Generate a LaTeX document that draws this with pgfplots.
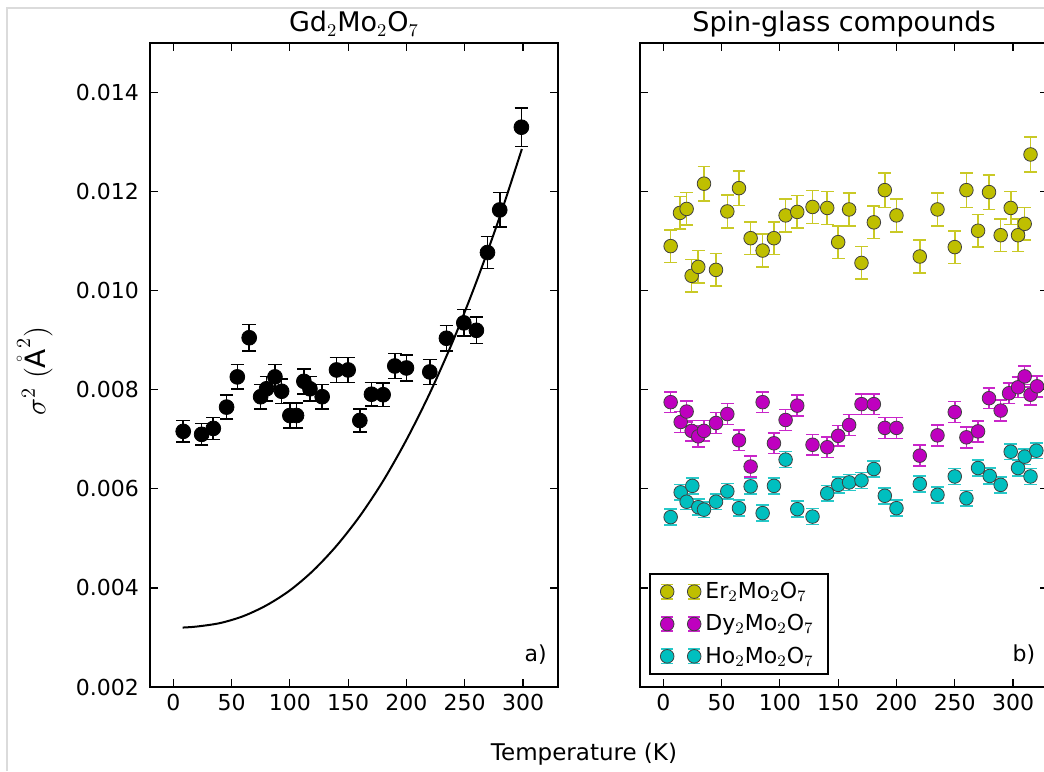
\documentclass[border=0pt]{standalone}
\usepackage{fontspec}
\setmainfont{DejaVu Sans}
\usepackage{pgfplots}
\pgfplotsset{compat=1.18}
\definecolor{ErY}{rgb}{0.75,0.75,0}
\definecolor{DyM}{rgb}{0.75,0,0.75}
\definecolor{HoC}{rgb}{0,0.75,0.75}
\definecolor{Frame}{gray}{0.86}

% legend glyph: two markers with error bars, as matplotlib draws them
\newcommand{\legimg}[1]{%
  \foreach \xx in {0pt,13.5pt}{%
    \draw[#1!85!white,line width=0.8pt] (\xx,-3.6pt)--(\xx,3.6pt)
      (\xx-3pt,3.6pt)--(\xx+3pt,3.6pt) (\xx-3pt,-3.6pt)--(\xx+3pt,-3.6pt);
    \draw[fill=#1,draw=black!75,line width=0.4pt] (\xx,0) circle (3.4pt);
  }}

\pgfplotsset{
  panel/.style={
    scale only axis, width=204pt, height=322pt,
    xmin=-20, xmax=330, ymin=0.002, ymax=0.015,
    xtick={0,50,100,150,200,250,300},
    ytick={0.002,0.004,0.006,0.008,0.010,0.012,0.014},
    scaled y ticks=false,
    axis line style={line width=1pt},
    tick style={black,line width=0.6pt},
    major tick length=4pt,
    ticklabel style={font=\fontsize{11}{13}\selectfont},
    /pgf/number format/assume math mode=true,
    yticklabel style={/pgf/number format/fixed,/pgf/number format/fixed zerofill,
      /pgf/number format/precision=3,xshift=-2pt},
    title style={font=\fontsize{13.5}{16}\selectfont,at={(0.5,1)},anchor=base,yshift=-0.5pt},
  },
  gdpts/.style={only marks,mark=*,mark size=3.7pt,black,
    error bars/.cd,y dir=both,y explicit,
    error bar style={line width=0.8pt},
    error mark options={rotate=90,line width=0.8pt,mark size=3.4pt}},
  sgpts/.style={only marks,mark=*,mark size=3.4pt,color=#1,
    mark options={fill=#1,draw=black!75,line width=0.4pt},
    legend image code/.code={\legimg{#1}},
    error bars/.cd,y dir=both,y explicit,
    error bar style={line width=0.8pt,color=#1!85!white},
    error mark options={rotate=90,line width=0.8pt,mark size=3.2pt,color=#1!85!white}},
}

\begin{document}
\begin{tikzpicture}
\begin{axis}[panel,at={(0,0)},anchor=south west,
  title={Gd$_2$Mo$_2$O$_7$},
  ylabel={$\sigma^2\ (\mathring{\mathrm{A}}^2)$},
  ylabel style={font=\fontsize{14}{16}\selectfont,at={(axis description cs:-0.282,0.49)},anchor=center}]
  \addplot[black,line width=1pt,smooth,no marks] coordinates {
    (8,0.00320)(20,0.00322)(40,0.00329)(60,0.00343)(80,0.00365)(100,0.00395)
    (120,0.00435)(140,0.00485)(160,0.00545)(180,0.00616)(200,0.00699)
    (220,0.00793)(240,0.00899)(260,0.01018)(280,0.01149)(299,0.01286)};
  \addplot[gdpts] coordinates {
    (8.5,0.00716) +- (0,0.00022)
    (24.3,0.00710) +- (0,0.00022)
    (34.3,0.00722) +- (0,0.00022)
    (45.7,0.00765) +- (0,0.00024)
    (54.9,0.00826) +- (0,0.00025)
    (65.1,0.00905) +- (0,0.00027)
    (74.9,0.00786) +- (0,0.00025)
    (80.0,0.00802) +- (0,0.00025)
    (87.2,0.00826) +- (0,0.00025)
    (92.9,0.00797) +- (0,0.00025)
    (100.0,0.00748) +- (0,0.00025)
    (105.7,0.00748) +- (0,0.00025)
    (112.0,0.00817) +- (0,0.00025)
    (117.2,0.00802) +- (0,0.00025)
    (127.7,0.00786) +- (0,0.00025)
    (140.0,0.00840) +- (0,0.00025)
    (150.0,0.00840) +- (0,0.00025)
    (160.0,0.00738) +- (0,0.00023)
    (170.0,0.00791) +- (0,0.00024)
    (180.0,0.00790) +- (0,0.00024)
    (190.0,0.00848) +- (0,0.00025)
    (200.0,0.00844) +- (0,0.00026)
    (220.0,0.00836) +- (0,0.00025)
    (234.3,0.00904) +- (0,0.00026)
    (249.2,0.00935) +- (0,0.00027)
    (260.0,0.00920) +- (0,0.00027)
    (269.5,0.01077) +- (0,0.00032)
    (280.0,0.01163) +- (0,0.00035)
    (298.6,0.01330) +- (0,0.00039)};
  \node[font=\fontsize{11}{13}\selectfont] at (axis description cs:0.945,0.05) {a)};
\end{axis}

\begin{axis}[panel,at={(245pt,0)},anchor=south west,
  title={Spin-glass compounds},
  yticklabels={},
  legend cell align=left,
  legend style={at={(axis description cs:0,0)},anchor=south west,xshift=4.5pt,yshift=6pt,
    draw=black,line width=1pt,font=\fontsize{11}{13}\selectfont,row sep=2.5pt,
    inner xsep=5pt,inner ysep=2pt}]
  \addplot[sgpts=ErY] coordinates {
    (6.3,0.01090) +- (0,0.00033)
    (14.3,0.01157) +- (0,0.00033)
    (20.0,0.01165) +- (0,0.00033)
    (24.3,0.01030) +- (0,0.00033)
    (30.0,0.01048) +- (0,0.00033)
    (34.9,0.01216) +- (0,0.00035)
    (45.2,0.01042) +- (0,0.00033)
    (54.9,0.01160) +- (0,0.00033)
    (64.9,0.01207) +- (0,0.00035)
    (74.9,0.01106) +- (0,0.00033)
    (85.2,0.01081) +- (0,0.00033)
    (94.9,0.01106) +- (0,0.00033)
    (104.9,0.01152) +- (0,0.00033)
    (114.9,0.01159) +- (0,0.00033)
    (128.0,0.01169) +- (0,0.00033)
    (140.6,0.01167) +- (0,0.00033)
    (150.0,0.01098) +- (0,0.00033)
    (159.4,0.01164) +- (0,0.00033)
    (170.0,0.01056) +- (0,0.00033)
    (180.6,0.01138) +- (0,0.00033)
    (190.0,0.01203) +- (0,0.00035)
    (200.0,0.01152) +- (0,0.00033)
    (220.0,0.01069) +- (0,0.00033)
    (235.2,0.01164) +- (0,0.00033)
    (250.0,0.01088) +- (0,0.00033)
    (260.0,0.01203) +- (0,0.00035)
    (270.0,0.01121) +- (0,0.00033)
    (279.4,0.01199) +- (0,0.00035)
    (289.4,0.01112) +- (0,0.00033)
    (298.0,0.01167) +- (0,0.00033)
    (304.3,0.01112) +- (0,0.00033)
    (310.0,0.01135) +- (0,0.00033)
    (315.0,0.01275) +- (0,0.00035)};
  \addlegendentry{Er$_2$Mo$_2$O$_7$}
  \addplot[sgpts=DyM] coordinates {
    (6.3,0.00775) +- (0,0.00021)
    (14.9,0.00735) +- (0,0.00021)
    (20.0,0.00756) +- (0,0.00021)
    (24.3,0.00717) +- (0,0.00021)
    (30.0,0.00706) +- (0,0.00021)
    (34.9,0.00717) +- (0,0.00021)
    (45.2,0.00733) +- (0,0.00021)
    (54.9,0.00751) +- (0,0.00021)
    (64.9,0.00698) +- (0,0.00021)
    (74.9,0.00645) +- (0,0.00021)
    (85.2,0.00775) +- (0,0.00021)
    (94.9,0.00692) +- (0,0.00021)
    (104.9,0.00739) +- (0,0.00021)
    (114.9,0.00768) +- (0,0.00021)
    (128.0,0.00689) +- (0,0.00021)
    (140.6,0.00684) +- (0,0.00021)
    (150.0,0.00707) +- (0,0.00021)
    (159.4,0.00729) +- (0,0.00021)
    (170.0,0.00771) +- (0,0.00021)
    (180.6,0.00771) +- (0,0.00021)
    (190.0,0.00723) +- (0,0.00021)
    (200.0,0.00723) +- (0,0.00021)
    (220.0,0.00667) +- (0,0.00021)
    (235.2,0.00708) +- (0,0.00021)
    (250.0,0.00755) +- (0,0.00021)
    (260.0,0.00704) +- (0,0.00021)
    (270.0,0.00716) +- (0,0.00021)
    (279.4,0.00783) +- (0,0.00021)
    (289.4,0.00758) +- (0,0.00021)
    (296.6,0.00793) +- (0,0.00021)
    (304.3,0.00805) +- (0,0.00021)
    (310.0,0.00827) +- (0,0.00021)
    (315.0,0.00790) +- (0,0.00021)
    (320.6,0.00807) +- (0,0.00021)};
  \addlegendentry{Dy$_2$Mo$_2$O$_7$}
  \addplot[sgpts=HoC] coordinates {
    (6.3,0.00543) +- (0,0.00016)
    (14.9,0.00593) +- (0,0.00016)
    (20.0,0.00574) +- (0,0.00016)
    (24.9,0.00606) +- (0,0.00016)
    (30.0,0.00563) +- (0,0.00016)
    (34.9,0.00558) +- (0,0.00016)
    (45.2,0.00574) +- (0,0.00016)
    (54.9,0.00595) +- (0,0.00016)
    (64.9,0.00561) +- (0,0.00016)
    (74.9,0.00605) +- (0,0.00016)
    (85.2,0.00551) +- (0,0.00016)
    (94.9,0.00606) +- (0,0.00016)
    (104.9,0.00659) +- (0,0.00016)
    (114.9,0.00559) +- (0,0.00016)
    (128.0,0.00544) +- (0,0.00016)
    (140.6,0.00591) +- (0,0.00016)
    (150.0,0.00608) +- (0,0.00016)
    (159.4,0.00613) +- (0,0.00016)
    (170.0,0.00617) +- (0,0.00016)
    (180.6,0.00640) +- (0,0.00016)
    (190.0,0.00586) +- (0,0.00016)
    (200.0,0.00561) +- (0,0.00016)
    (220.0,0.00610) +- (0,0.00016)
    (235.2,0.00588) +- (0,0.00016)
    (250.0,0.00625) +- (0,0.00016)
    (260.0,0.00581) +- (0,0.00016)
    (270.0,0.00642) +- (0,0.00016)
    (280.0,0.00626) +- (0,0.00016)
    (289.4,0.00608) +- (0,0.00016)
    (298.0,0.00675) +- (0,0.00016)
    (304.3,0.00642) +- (0,0.00016)
    (310.0,0.00665) +- (0,0.00016)
    (315.0,0.00625) +- (0,0.00016)
    (320.0,0.00677) +- (0,0.00016)};
  \addlegendentry{Ho$_2$Mo$_2$O$_7$}
  \node[font=\fontsize{11}{13}\selectfont] at (axis description cs:0.941,0.05) {b)};
\end{axis}

\node[anchor=base,font=\fontsize{11.5}{13}\selectfont] at (217pt,-36.5pt) {Temperature (K)};
\draw[Frame,line width=0.8pt] (-71.5pt,-42pt) -- (-71.5pt,339.5pt) -- (447pt,339.5pt);
\pgfresetboundingbox
\useasboundingbox (-75pt,-42pt) rectangle (447pt,343.5pt);
\end{tikzpicture}
\end{document}
